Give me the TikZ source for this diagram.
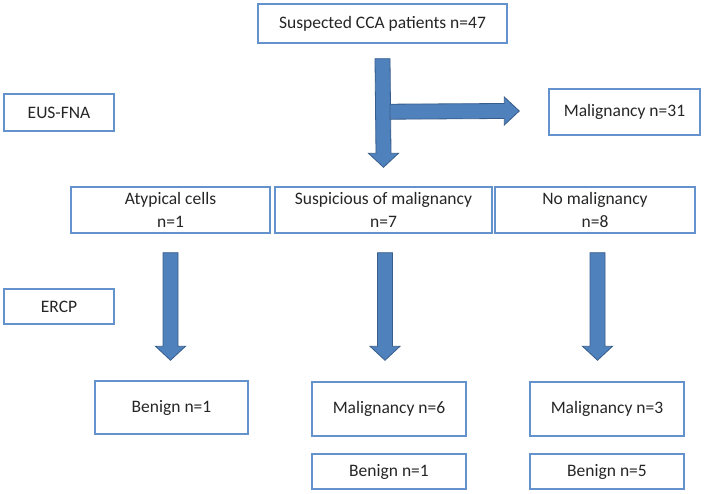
\documentclass[tikz,border=0pt]{standalone}
\usepackage{fontspec}
\setmainfont{Carlito}
\usetikzlibrary{calc}
\definecolor{boxline}{RGB}{100,146,204}
\definecolor{arrowfill}{RGB}{79,129,189}
\definecolor{arrowline}{RGB}{56,93,138}
\tikzset{
  box/.style={draw=boxline, line width=1.4pt, fill=white, text=black!85,
    align=center, inner sep=0pt, font=\fontsize{17.5}{23}\selectfont},
  fatarrow/.style={draw=arrowline, fill=arrowfill, line width=0.8pt, line join=miter}
}
% block arrow pointing down, from coordinate #1 to tip #2
\newcommand{\fatdown}[2]{%
  \draw[fatarrow] ($(#1)+(-7.5,0)$) -- ($(#1)+(7.5,0)$) -- ($(#2)+(7.5,-14)$)
    -- ($(#2)+(15,-14)$) -- (#2) -- ($(#2)+(-15,-14)$) -- ($(#2)+(-7.5,-14)$) -- cycle;}
% same, pointing right
\newcommand{\fatright}[2]{%
  \draw[fatarrow] ($(#1)+(0,-7.5)$) -- ($(#1)+(0,7.5)$) -- ($(#2)+(-15,7.5)$)
    -- ($(#2)+(-15,14)$) -- (#2) -- ($(#2)+(-15,-14)$) -- ($(#2)+(-15,-7.5)$) -- cycle;}
\begin{document}
\begin{tikzpicture}[x=1pt, y=-1pt]
      \useasboundingbox (0,0) rectangle (705,494);
      \node[box, minimum width=249, minimum height=39] (top) at (382.5,23.5) {Suspected CCA patients n=47};
      \node[box, minimum width=110, minimum height=37] (eus) at (59,112.5) {EUS-FNA};
      \node[box, minimum width=151, minimum height=46] (mal31) at (624.5,112) {Malignancy n=31};
      \node[box, minimum width=199, minimum height=46] (atyp) at (170.5,210) {Atypical cells\\n=1};
      \node[box, minimum width=217, minimum height=46] (susp) at (383.5,210) {Suspicious of malignancy\\n=7};
      \node[box, minimum width=200, minimum height=46] (nomal) at (595,210) {No malignancy\\n=8};
      \node[box, minimum width=110, minimum height=35] (ercp) at (59,306.5) {ERCP};
      \node[box, minimum width=153, minimum height=53] (ben1) at (171.5,407.5) {Benign n=1};
      \node[box, minimum width=154, minimum height=54] (mal6) at (389,409) {Malignancy n=6};
      \node[box, minimum width=154, minimum height=35] (ben1b) at (389,471.5) {Benign n=1};
      \node[box, minimum width=154, minimum height=54] (mal3) at (607,409) {Malignancy n=3};
      \node[box, minimum width=154, minimum height=35] (ben5) at (607,471.5) {Benign n=5};
      % arrow ends
      \coordinate (s0) at ($(top.south)+(0,15)$);
      \coordinate (e0) at ($(susp.north)+(0,-19)$);
      \coordinate (b0) at ($(s0)+(7.5,53)$);
      \coordinate (e1) at ($(mal31.west)+(-29,-1)$);
      \coordinate (s1) at ($(atyp.south)+(0,19)$);
      \coordinate (e2) at ($(ben1.north)+(-1,-20)$);
      \coordinate (s2) at ($(susp.south)+(1.5,19)$);
      \coordinate (e3) at ($(mal6.north)+(-4,-21)$);
      \coordinate (s3) at ($(nomal.south)+(2.5,19)$);
      \coordinate (e4) at ($(mal3.north)+(-9.5,-21)$);
      \fatdown{s0}{e0}
      \fatright{b0}{e1}
      \fatdown{s1}{e2}
      \fatdown{s2}{e3}
      \fatdown{s3}{e4}
    \end{tikzpicture}
\end{document}
